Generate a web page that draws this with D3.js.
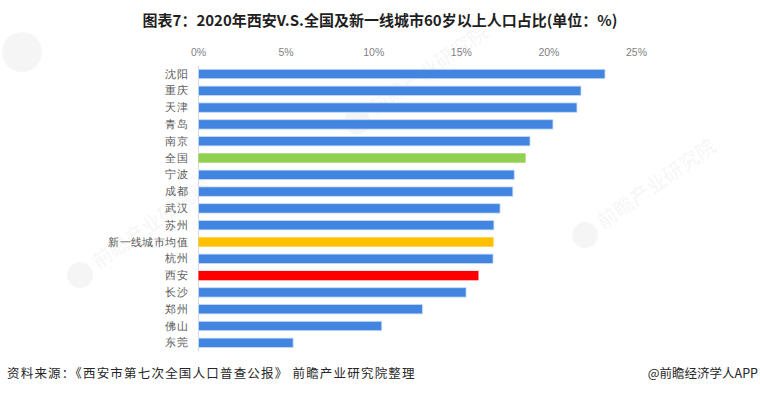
<!DOCTYPE html>
<html>
<head>
<meta charset="utf-8">
<script src="https://cdn.jsdelivr.net/npm/d3@7"></script>
<style>
  html, body { margin: 0; padding: 0; background: #fff; }
  svg { display: block; font-family: "Noto Sans CJK SC", "Noto Sans", sans-serif; }
</style>
</head>
<body>
<div id="chart"></div>
<script>
var titleText = '图表7：2020年西安V.S.全国及新一线城市60岁以上人口占比(单位：%)';
var sourceText = '资料来源：《西安市第七次全国人口普查公报》 前瞻产业研究院整理';
var creditText = '@前瞻经济学人APP';

var cities = ['沈阳', '重庆', '天津', '青岛', '南京', '全国', '宁波', '成都', '武汉',
              '苏州', '新一线城市均值', '杭州', '西安', '长沙', '郑州', '佛山', '东莞'];
var shares = [23.23, 21.86, 21.63, 20.26, 18.95, 18.70, 18.05, 17.97, 17.24,
              16.89, 16.87, 16.84, 16.01, 15.30, 12.81, 10.49, 5.43];
var ticks = [0, 5, 10, 15, 20, 25];

var highlight = { '全国': '#92d050', '新一线城市均值': '#ffc000', '西安': '#ff0000' };

var barChart = {

  config: {
    width: 760,
    height: 394,
    left: 198,
    right: 636,
    top: 65.6,
    bottom: 351.2
  },

  display: function(el) {
    this.el = el;

    this.createSvg();
    this.createWatermarks();
    this.createScales();
    this.createAxes();
    this.createBars();
    this.createTexts();
  },

  createSvg: function() {
    this.svg = d3.select(this.el).append('svg')
                 .attr('width', this.config.width)
                 .attr('height', this.config.height);
  },

  /* ---
   * faint site watermarks behind the plot (kept inside the picture)
   */
  createWatermarks: function() {
    var marks = [[372, 118], [600, 232], [95, 272]];
    var g = this.svg.append('g').attr('fill', '#000').attr('fill-opacity', 0.04);

    g.append('circle').attr('cx', 22).attr('cy', 52).attr('r', 20);

    marks.forEach(function(m) {
      var w = g.append('g').attr('transform', 'translate(' + m[0] + ',' + m[1] + ') rotate(-35)');
      w.append('circle').attr('cx', -14).attr('cy', -6).attr('r', 13);
      w.append('text').attr('x', 4).attr('y', 0)
       .attr('font-size', 20).attr('font-weight', 'bold').text('前瞻产业研究院');
      w.append('text').attr('x', 6).attr('y', 11)
       .attr('font-size', 6.5).attr('letter-spacing', 2).text('中国产业咨询领导者');
    });
  },

  createScales: function() {
    this.x = d3.scaleLinear()
               .domain([0, 25])
               .range([this.config.left, this.config.right]);

    this.y = d3.scaleBand()
               .domain(cities)
               .range([this.config.top, this.config.bottom])
               .paddingInner(0.44)
               .paddingOuter(0.22);
  },

  createAxes: function() {
    var top = this.svg.append('g')
                  .attr('transform', 'translate(0,' + (this.config.top - 13) + ')')
                  .call(d3.axisTop(this.x).tickValues(ticks).tickSize(0).tickPadding(0)
                          .tickFormat(function(d) { return d + '%'; }));
    top.select('.domain').remove();
    top.selectAll('text')
       .attr('dy', '0.32em')
       .attr('fill', '#7f7f7f')
       .attr('font-size', 10.5)
       .attr('font-family', '"Liberation Sans Narrow", "Liberation Sans", sans-serif');

    var left = this.svg.append('g')
                   .attr('transform', 'translate(' + this.config.left + ',0)')
                   .call(d3.axisLeft(this.y).tickSize(0).tickPadding(10));
    left.select('.domain')
        .attr('stroke', '#d9d9d9')
        .attr('d', 'M0.5,' + this.config.top + 'V' + this.config.bottom);
    left.selectAll('text')
        .attr('fill', '#595959')
        .attr('font-size', 11)
        .attr('letter-spacing', 0.4);
  },

  createBars: function() {
    this.svg.append('g')
            .selectAll('rect')
            .data(cities)
            .enter()
            .append('rect')
            .attr('x', this.x(0) + 0.5)
            .attr('y', (d) => { return this.y(d); })
            .attr('width', (d, i) => { return this.x(shares[i]) - this.x(0) - 0.5; })
            .attr('height', this.y.bandwidth())
            .attr('fill', (d) => { return highlight[d] || '#4185e1'; })
            .attr('stroke', (d) => { return highlight[d] ? 'none' : '#c9dcf5'; })
            .attr('stroke-width', 0.8);
  },

  createTexts: function() {
    this.svg.append('text')
            .attr('x', 380)
            .attr('y', 26)
            .attr('text-anchor', 'middle')
            .attr('font-size', 15)
            .attr('font-weight', 'bold')
            .attr('fill', '#1f1f1f')
            .text(titleText);

    this.svg.append('text')
            .attr('x', 7)
            .attr('y', 378)
            .attr('font-size', 12.5)
            .attr('letter-spacing', 1.2)
            .attr('fill', '#262626')
            .text(sourceText);

    this.svg.append('text')
            .attr('x', 758)
            .attr('y', 378)
            .attr('text-anchor', 'end')
            .attr('font-size', 12.5)
            .attr('fill', '#262626')
            .text(creditText);
  }

};

barChart.display('#chart');
</script>
</body>
</html>
